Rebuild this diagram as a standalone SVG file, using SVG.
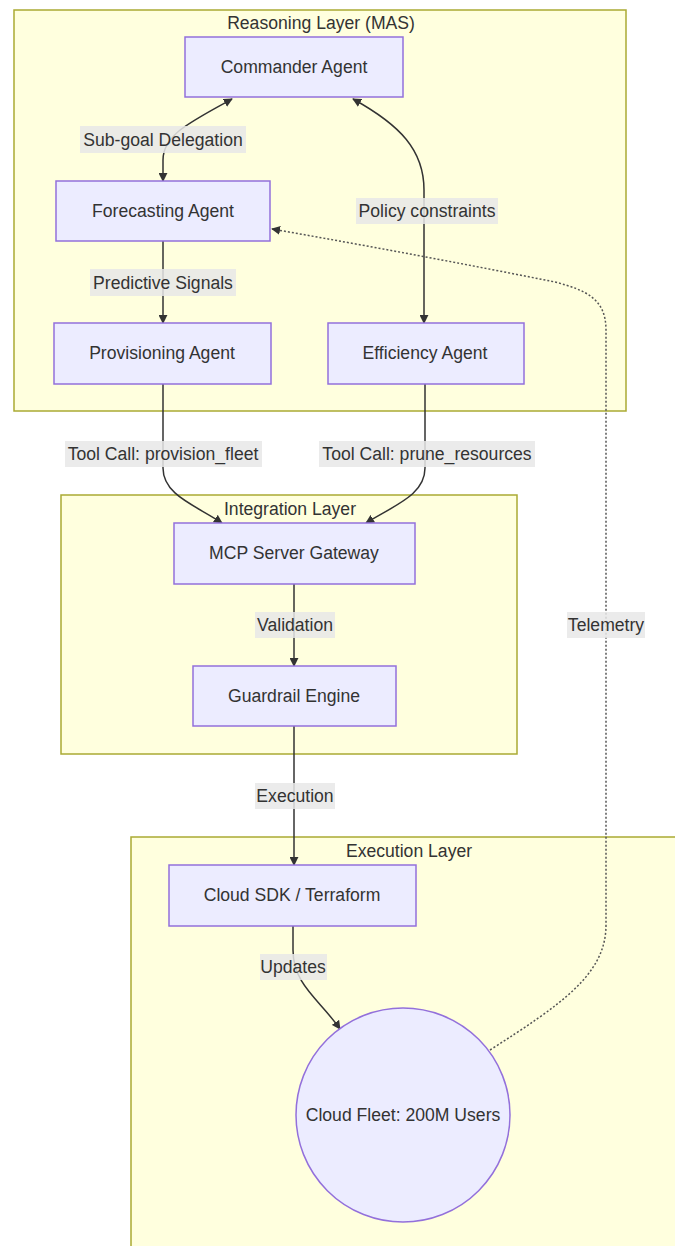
<svg xmlns="http://www.w3.org/2000/svg" width="675" height="1246" viewBox="0 0 675 1246">
<style>
text{font-family:"Liberation Sans",Arial,sans-serif;font-size:17.6px;fill:#333;text-anchor:middle;dominant-baseline:central}
.cluster{fill:#ffffde;stroke:#aaaa33;stroke-width:1.5}
.node{fill:#ececff;stroke:#9370db;stroke-width:1.5}
.edge{fill:none;stroke:#333;stroke-width:1.5}
.dot{fill:none;stroke:#555;stroke-width:1.5;stroke-dasharray:2,2}
.lbl{fill:#e8e8e8;opacity:0.85}
</style>
<defs>
<marker id="arr" viewBox="0 0 10 10" refX="9" refY="5" markerWidth="9" markerHeight="9" markerUnits="userSpaceOnUse" orient="auto-start-reverse">
<path d="M0,0 L10,5 L0,10 z" fill="#333"/>
</marker>
</defs>
<rect width="675" height="1246" fill="#ffffff"/>
<g id="clusters">
<g id="reasoning-layer">
<rect class="cluster" x="14" y="10" width="612" height="401"/>
<text x="321" y="23">Reasoning Layer (MAS)</text>
</g>
<g id="integration-layer">
<rect class="cluster" x="61" y="495" width="456" height="259"/>
<text x="290" y="509">Integration Layer</text>
</g>
<g id="execution-layer">
<rect class="cluster" x="131" y="837" width="600" height="420"/>
<text x="409" y="851">Execution Layer</text>
</g>
</g>
<g id="connectors">
<path class="edge" d="M232,99 C190,122 163,135 163,160 L163,181" marker-start="url(#arr)" marker-end="url(#arr)"/>
<path class="edge" d="M353,99 C400,125 424,150 424,190 L424,323" marker-start="url(#arr)" marker-end="url(#arr)"/>
<path class="edge" d="M163,241 L163,323" marker-end="url(#arr)"/>
<path class="edge" d="M163,384 L163,468 C163,495 195,505 222,523" marker-end="url(#arr)"/>
<path class="edge" d="M425,384 L425,468 C425,495 395,505 366,523" marker-end="url(#arr)"/>
<path class="edge" d="M294,584 L294,666" marker-end="url(#arr)"/>
<path class="edge" d="M294,726 L294,865" marker-end="url(#arr)"/>
<path class="edge" d="M293,926 L293,950 C293,985 320,1000 340,1029" marker-end="url(#arr)"/>
<path class="dot" d="M490,1050 C560,1005 606,975 606,925 L606,330 C606,298 585,290 555,282 Q420,255 272,229" marker-end="url(#arr)"/>
<g id="edge-labels">
<rect class="lbl" x="80" y="126" width="166" height="27"/>
<text x="163" y="139.5">Sub-goal Delegation</text>
<rect class="lbl" x="356" y="198" width="142" height="26"/>
<text x="427" y="211">Policy constraints</text>
<rect class="lbl" x="90" y="269" width="146" height="27"/>
<text x="163" y="282.5">Predictive Signals</text>
<rect class="lbl" x="65" y="441" width="197" height="26"/>
<text x="163" y="454">Tool Call: provision_fleet</text>
<rect class="lbl" x="319" y="441" width="216" height="26"/>
<text x="427" y="454">Tool Call: prune_resources</text>
<rect class="lbl" x="255" y="612" width="80" height="26"/>
<text x="295" y="625">Validation</text>
<rect class="lbl" x="567" y="612" width="78" height="26"/>
<text x="606" y="625">Telemetry</text>
<rect class="lbl" x="255" y="783" width="80" height="26"/>
<text x="295" y="796">Execution</text>
<rect class="lbl" x="260" y="954" width="67" height="26"/>
<text x="293" y="967">Updates</text>
</g>
</g>
<g id="commander">
<rect class="node" x="185" y="37" width="218" height="60"/>
<text x="294" y="67">Commander Agent</text>
</g>
<g id="forecasting">
<rect class="node" x="56" y="181" width="214" height="60"/>
<text x="163" y="211">Forecasting Agent</text>
</g>
<g id="provisioning">
<rect class="node" x="54" y="323" width="217" height="61"/>
<text x="162" y="353">Provisioning Agent</text>
</g>
<g id="efficiency">
<rect class="node" x="328" y="323" width="196" height="61"/>
<text x="425" y="353">Efficiency Agent</text>
</g>
<g id="mcp">
<rect class="node" x="174" y="523" width="241" height="61"/>
<text x="294" y="553">MCP Server Gateway</text>
</g>
<g id="guardrail">
<rect class="node" x="193" y="666" width="203" height="60"/>
<text x="294" y="696">Guardrail Engine</text>
</g>
<g id="cloudsdk">
<rect class="node" x="169" y="865" width="247" height="61"/>
<text x="292" y="895">Cloud SDK / Terraform</text>
</g>
<g id="fleet">
<circle class="node" cx="403" cy="1115" r="107"/>
<text x="403" y="1115">Cloud Fleet: 200M Users</text>
</g>
</svg>
